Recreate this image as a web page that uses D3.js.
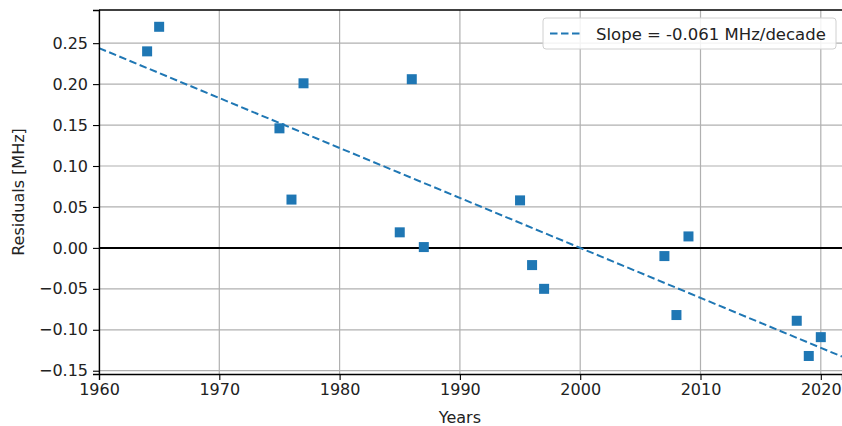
<!DOCTYPE html>
<html>
<head>
<meta charset="utf-8">
<script src="https://cdn.jsdelivr.net/npm/d3@7"></script>
<style>
  body { margin: 0; background: #fff; }
  svg text { font-family: "DejaVu Sans", sans-serif; }
</style>
</head>
<body>
<svg id="graphsvg" width="842" height="426"></svg>
<script>
// measured years and residuals (MHz)
var years = [1964, 1965, 1975, 1976, 1977, 1985, 1986, 1987, 1995, 1996, 1997, 2007, 2008, 2009, 2018, 2019, 2020];
var residuals = [0.240, 0.270, 0.146, 0.059, 0.201, 0.019, 0.206, 0.001, 0.058, -0.021, -0.050, -0.010, -0.082, 0.014, -0.089, -0.132, -0.109];
// linear fit
var fitSlope = -0.0061;   // MHz per year
var fitZeroYear = 2000;   // year where fit crosses zero
var legendLabel = "Slope = -0.061 MHz/decade";
var xTicks = [1960, 1970, 1980, 1990, 2000, 2010, 2020];
var yTicks = [-0.15, -0.10, -0.05, 0.00, 0.05, 0.10, 0.15, 0.20, 0.25];

var svg = d3.select("#graphsvg"),
    margin = {top: 10, right: 0, bottom: 52, left: 99},
    width = 842 - margin.left - margin.right,
    height = 426 - margin.top - margin.bottom;

var blue = "#1f77b4";
var fs = "16px";

var x = d3.scaleLinear().domain([1960, 1960 + width / 12.03]).range([0, width]);
var y = d3.scaleLinear().domain([-0.154, 0.2905]).range([height, 0]);

var g = svg.append("g").attr("transform", "translate(" + margin.left + "," + margin.top + ")");

// grid
g.append("g").selectAll("line").data(xTicks).enter().append("line")
  .attr("x1", function(d) { return x(d); }).attr("x2", function(d) { return x(d); })
  .attr("y1", 0).attr("y2", height)
  .attr("stroke", "#b0b0b0").attr("stroke-width", 1.2);
g.append("g").selectAll("line").data(yTicks).enter().append("line")
  .attr("y1", function(d) { return y(d); }).attr("y2", function(d) { return y(d); })
  .attr("x1", 0).attr("x2", width)
  .attr("stroke", "#b0b0b0").attr("stroke-width", 1.2);

// zero line
g.append("line")
  .attr("x1", 0).attr("x2", width)
  .attr("y1", y(0)).attr("y2", y(0))
  .attr("stroke", "#000").attr("stroke-width", 2);

// fit line
var fit = function(yr) { return fitSlope * (yr - fitZeroYear); };
var xd = x.domain();
g.append("line")
  .attr("x1", x(xd[0])).attr("y1", y(fit(xd[0])))
  .attr("x2", x(xd[1])).attr("y2", y(fit(xd[1])))
  .attr("stroke", blue).attr("stroke-width", 2)
  .attr("stroke-dasharray", "7.5,3.5");

// points
var pts = years.map(function(d, i) { return {year: d, r: residuals[i]}; });
var s = 10;
g.append("g").selectAll("rect").data(pts).enter().append("rect")
  .attr("x", function(d) { return x(d.year) - s / 2; })
  .attr("y", function(d) { return y(d.r) - s / 2; })
  .attr("width", s).attr("height", s)
  .attr("fill", blue);

// axes
var xAxis = g.append("g")
  .attr("transform", "translate(0," + height + ")")
  .call(d3.axisBottom(x).tickValues(xTicks).tickFormat(d3.format("d")).tickSizeOuter(0).tickSize(6).tickPadding(4));
var yAxis = g.append("g")
  .call(d3.axisLeft(y).tickValues(yTicks).tickFormat(d3.format(".2f")).tickSizeOuter(0).tickSize(6).tickPadding(5));
[xAxis, yAxis].forEach(function(a) {
  a.attr("font-size", null).attr("font-family", null);
  a.select(".domain").attr("stroke", "#000").attr("stroke-width", 1.3);
  a.selectAll(".tick line").attr("stroke", "#000").attr("stroke-width", 1.1);
  a.selectAll(".tick text").style("font-size", fs).attr("fill", "#222");
});
yAxis.selectAll(".tick text").text(function(d) { return d3.format(".2f")(d).replace("-", "\u2212"); });

// top spine
g.append("line").attr("x1", 0).attr("x2", width).attr("y1", 0).attr("y2", 0)
  .attr("stroke", "#000").attr("stroke-width", 1.3);

// labels
svg.append("text")
  .attr("x", margin.left + x(1990)).attr("y", 423)
  .attr("text-anchor", "middle").style("font-size", fs).attr("fill", "#222")
  .text("Years");
svg.append("text")
  .attr("transform", "translate(24," + (margin.top + height / 2) + ") rotate(-90)")
  .attr("text-anchor", "middle").style("font-size", fs).attr("fill", "#222")
  .text("Residuals [MHz]");

// legend
var lg = svg.append("g").attr("transform", "translate(543,18)");
lg.append("rect").attr("width", 293).attr("height", 31).attr("rx", 3)
  .attr("fill", "#fff").attr("fill-opacity", 0.85)
  .attr("stroke", "#d0d0d0").attr("stroke-width", 1);
lg.append("line").attr("x1", 7).attr("x2", 37).attr("y1", 15.5).attr("y2", 15.5)
  .attr("stroke", blue).attr("stroke-width", 2).attr("stroke-dasharray", "7.5,3.5");
lg.append("text").attr("x", 53).attr("y", 21.5).style("font-size", "16.5px").attr("fill", "#222")
  .text(legendLabel);
</script>
</body>
</html>
